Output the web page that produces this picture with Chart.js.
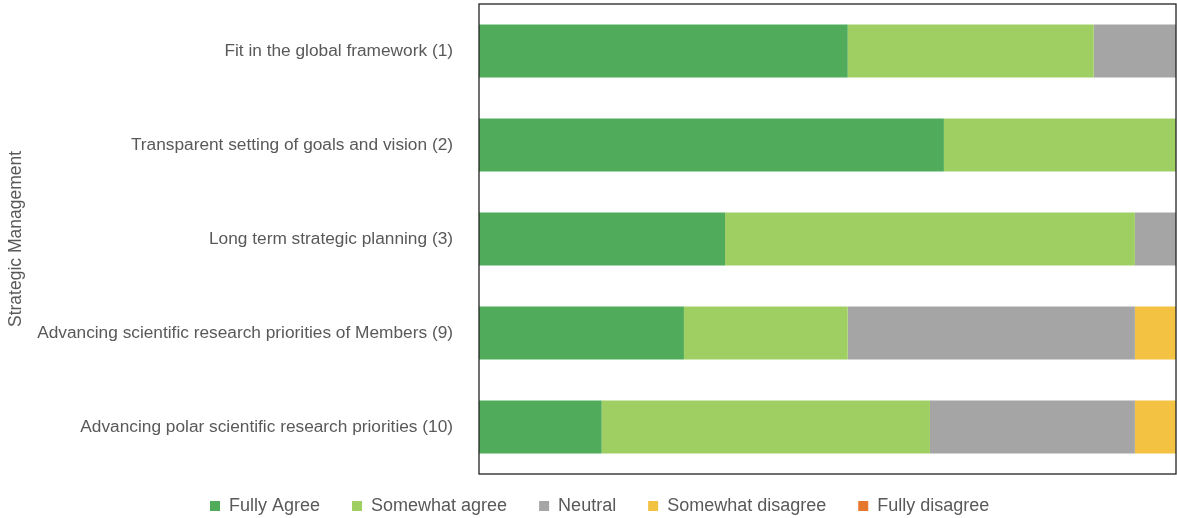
<!DOCTYPE html>
<html>
<head>
<meta charset="utf-8">
<script src="https://cdn.jsdelivr.net/npm/chart.js@4"></script>
<style>
  html, body { margin: 0; padding: 0; background: #fff; }
  #wrap { width: 1177px; height: 518px; }
</style>
</head>
<body>
<div id="wrap"><canvas id="barChart"></canvas></div>
<script>
const categories = [
    'Fit in the global framework (1)',
    'Transparent setting of goals and vision (2)',
    'Long term strategic planning (3)',
    'Advancing scientific research priorities of Members (9)',
    'Advancing polar scientific research priorities (10)'
];
const fullyAgree = [52.9, 66.7, 35.3, 29.4, 17.6];
const somewhatAgree = [35.3, 33.3, 58.8, 23.5, 47.1];
const neutral = [11.8, 0, 5.9, 41.2, 29.4];
const somewhatDisagree = [0, 0, 0, 5.9, 5.9];
const fullyDisagree = [0, 0, 0, 0, 0];

const fontFamily = '"Liberation Sans", Arial, sans-serif';

// frame round the plot area
const boxPlugin = {
    id: 'box',
    afterDraw(chart) {
        const a = chart.chartArea;
        const ctx = chart.ctx;
        ctx.save();
        ctx.strokeStyle = '#222';
        ctx.lineWidth = 1.3;
        ctx.strokeRect(a.left, a.top, a.right - a.left, a.bottom - a.top);
        ctx.restore();
    }
};

// nudge the legend: start it at x=210 and lift it a bit
const legendShift = {
    id: 'legendShift',
    afterLayout(chart) {
        const lg = chart.legend;
        if (!lg || !lg.lineWidths) return;
        const pad = lg.options.labels.padding;
        const firstX = (lg.left + pad + lg.right - lg.lineWidths[0]) / 2;
        const dx = 210 - firstX;
        lg.left += dx;
        lg.right += dx;
        lg.top -= 9;
        lg.bottom -= 9;
    }
};

const barCtx = document.getElementById('barChart').getContext('2d');
new Chart(barCtx, {
    type: 'bar',
    data: {
        labels: categories,
        datasets: [
            { label: 'Fully Agree', data: fullyAgree, backgroundColor: '#50AC5B' },
            { label: 'Somewhat agree', data: somewhatAgree, backgroundColor: '#9FCF63' },
            { label: 'Neutral', data: neutral, backgroundColor: '#A5A5A5' },
            { label: 'Somewhat disagree', data: somewhatDisagree, backgroundColor: '#F4C242' },
            { label: 'Fully disagree', data: fullyDisagree, backgroundColor: '#E6772E' }
        ]
    },
    options: {
        indexAxis: 'y',
        responsive: true,
        maintainAspectRatio: false,
        animation: false,
        layout: { padding: { left: 6, right: 1, top: 4, bottom: -16 } },
        datasets: { bar: { categoryPercentage: 1, barPercentage: 0.565, borderWidth: 0 } },
        plugins: {
            legend: {
                position: 'bottom',
                labels: {
                    boxWidth: 10,
                    boxHeight: 10,
                    padding: 32,
                    color: '#595959',
                    font: { family: fontFamily, size: 18 }
                }
            },
            tooltip: { enabled: false }
        },
        scales: {
            x: {
                stacked: true,
                min: 0,
                max: 100,
                display: false
            },
            y: {
                stacked: true,
                grid: { display: false },
                border: { display: false },
                ticks: {
                    color: '#595959',
                    padding: 18,
                    font: { family: fontFamily, size: 17.3 }
                },
                title: {
                    display: true,
                    text: 'Strategic Management',
                    color: '#595959',
                    padding: { top: 0, bottom: 0 },
                    font: { family: fontFamily, size: 17.5 }
                },
                afterFit(scale) {
                    scale.width = 473;
                    scale.paddingTop = 0;
                    scale.paddingBottom = 0;
                }
            }
        }
    },
    plugins: [boxPlugin, legendShift]
});
</script>
</body>
</html>
